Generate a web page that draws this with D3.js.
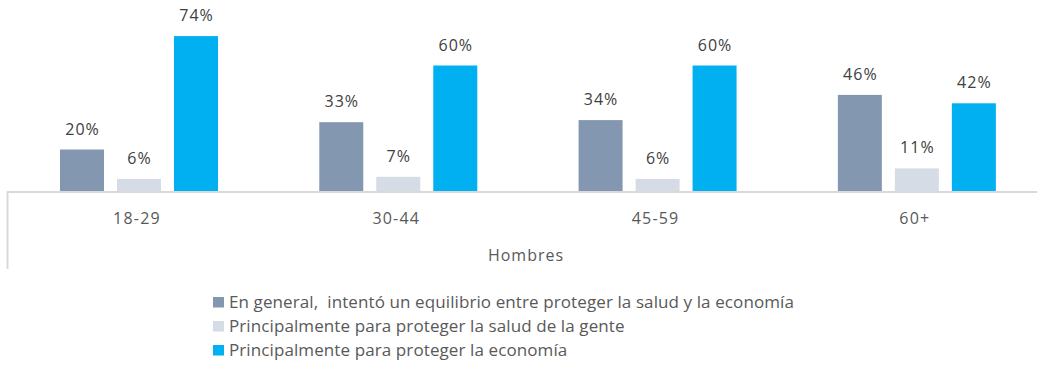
<!DOCTYPE html>
<html>
<head>
<meta charset="utf-8">
<script src="https://cdn.jsdelivr.net/npm/d3@7"></script>
<style>
  html, body { margin: 0; padding: 0; background: #fff; }
  svg { display: block; }
</style>
</head>
<body>
<svg id="chart" width="1037" height="367"></svg>
<script>
// Age groups (men) and the share choosing each answer
const categories = ["18-29", "30-44", "45-59", "60+"];
const groupTitle = "Hombres";
const seriesNames = [
  "En general,  intentó un equilibrio entre proteger la salud y la economía",
  "Principalmente para proteger la salud de la gente",
  "Principalmente para proteger la economía"
];
const seriesColors = ["#8497b0", "#d6dce5", "#00b0f0"];
const equilibrio = [20, 33, 34, 46];
const salud = [6, 7, 6, 11];
const economia = [74, 60, 60, 42];
const seriesValues = [equilibrio, salud, economia];

const svg = d3.select("#chart");

const baseY = 191.5;
const x0 = d3.scaleBand().domain(categories).range([9.35, 1046.5]).padding(0);
const x1 = d3.scaleBand().domain(d3.range(seriesNames.length)).range([0, 158]).paddingInner(13 / 57);
const innerOffset = (x0.bandwidth() - 158) / 2;
const y = d3.scaleLinear().domain([0, 80]).range([baseY, baseY - 80 * 2.1]);

const rows = categories.map((c, i) => ({
  cat: c,
  vals: seriesValues.map((arr, s) => ({ s, v: arr[i] }))
}));

const groups = svg.selectAll("g.grp").data(rows).join("g")
  .attr("class", "grp")
  .attr("transform", d => `translate(${x0(d.cat) + innerOffset},0)`);

groups.selectAll("rect").data(d => d.vals).join("rect")
  .attr("x", d => x1(d.s))
  .attr("y", d => y(d.v))
  .attr("width", x1.bandwidth())
  .attr("height", d => y(0) - y(d.v))
  .attr("fill", d => seriesColors[d.s]);

groups.selectAll("text.val").data(d => d.vals).join("text")
  .attr("class", "val")
  .attr("x", d => x1(d.s) + x1.bandwidth() / 2 + 0.5)
  .attr("y", d => y(d.v) - 15)
  .attr("text-anchor", "middle")
  .attr("font-family", "'Open Sans', sans-serif")
  .attr("font-size", 16)
  .attr("letter-spacing", 1)
  .attr("fill", "#404040")
  .text(d => d.v + "%");

// Category axis: baseline and outer border of the two-level axis
const axisColor = "#d9d9d9";
svg.append("line")
  .attr("x1", 7).attr("x2", 1037)
  .attr("y1", baseY + 0.5).attr("y2", baseY + 0.5)
  .attr("stroke", axisColor).attr("stroke-width", 2);
svg.append("line")
  .attr("x1", 7.5).attr("x2", 7.5)
  .attr("y1", baseY).attr("y2", 269)
  .attr("stroke", axisColor).attr("stroke-width", 2);

svg.selectAll("text.cat").data(categories).join("text")
  .attr("class", "cat")
  .attr("x", d => x0(d) + x0.bandwidth() / 2 - 2)
  .attr("y", 223.5)
  .attr("text-anchor", "middle")
  .attr("font-family", "'Open Sans', sans-serif")
  .attr("font-size", 16)
  .attr("letter-spacing", 1.2)
  .attr("fill", "#595959")
  .text(d => d);

svg.append("text")
  .attr("x", 526)
  .attr("y", 261)
  .attr("text-anchor", "middle")
  .attr("font-family", "'Open Sans', sans-serif")
  .attr("font-size", 16)
  .attr("letter-spacing", 1)
  .attr("fill", "#595959")
  .text(groupTitle);

// Legend
const legend = svg.append("g").attr("transform", "translate(213,297)");
const li = legend.selectAll("g").data(seriesNames).join("g")
  .attr("transform", (d, i) => `translate(0,${i * 24})`);
li.append("rect")
  .attr("width", 11).attr("height", 10.5)
  .attr("fill", (d, i) => seriesColors[i]);
li.append("text")
  .attr("x", 16)
  .attr("y", 11)
  .attr("font-family", "'Open Sans', sans-serif")
  .attr("font-size", 17)
  .attr("letter-spacing", 0.1)
  .style("white-space", "pre")
  .attr("fill", "#595959")
  .text(d => d);
</script>
</body>
</html>
